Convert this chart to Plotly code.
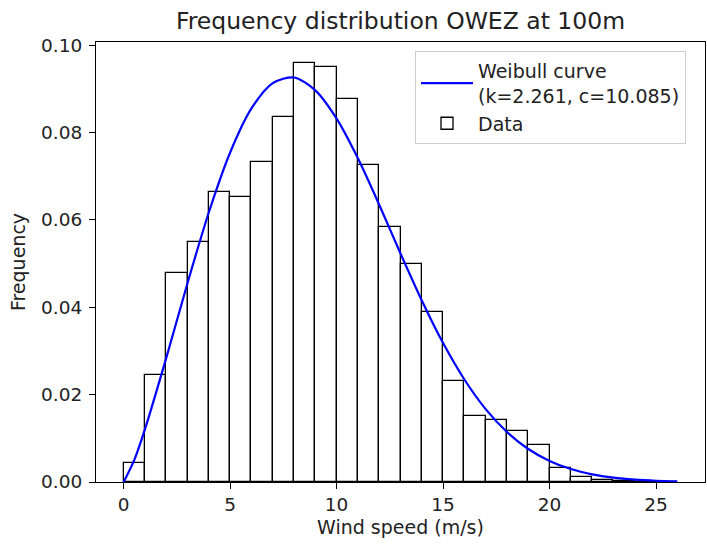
import plotly.graph_objects as go

# Histogram data (bin left edges, width 1 m/s) and relative frequencies
bin_left = list(range(0, 26))
freq = [0.0044, 0.0246, 0.0478, 0.0550, 0.0664, 0.0652, 0.0733, 0.0835, 0.0958,
        0.0950, 0.0877, 0.0726, 0.0584, 0.0498, 0.0388, 0.0231, 0.0150, 0.0143,
        0.0116, 0.0084, 0.0032, 0.0012, 0.0005, 0.0003, 0.0001, 0.0000]

# Weibull curve points (k=2.261, c=10.085)
curve_x = [0, 0.5, 1, 2, 3, 4, 5, 6, 7, 8, 9, 10, 11, 12, 13, 14, 15, 16, 17,
           18, 19, 20, 21, 22, 23, 24, 25, 26]
curve_y = [0.0, 0.00507, 0.01209, 0.02840, 0.04556, 0.06173, 0.07542, 0.08550,
           0.09130, 0.09258, 0.08964, 0.08316, 0.07407, 0.06345, 0.05230, 0.04155,
           0.03179, 0.02346, 0.01668, 0.01145, 0.00756, 0.00482, 0.00296, 0.00176,
           0.00100, 0.00055, 0.00029, 0.00015]

x_ticks = [0, 5, 10, 15, 20, 25]
y_ticks = [0.00, 0.02, 0.04, 0.06, 0.08, 0.10]

FONT = "DejaVu Sans"
TXT = "#222222"

fig = go.Figure()
fig.add_trace(go.Bar(
    x=[b + 0.5 for b in bin_left], y=freq, width=1,
    marker=dict(color="white", line=dict(color="black", width=1.3)),
    name="Data", legendrank=2,
))
fig.add_trace(go.Scatter(
    x=curve_x, y=curve_y, mode="lines",
    line=dict(color="#0000ff", width=2.2, shape="spline", smoothing=0.8),
    name="Weibull curve<br>(k=2.261, c=10.085)", legendrank=1,
))

fig.update_layout(
    width=707, height=545,
    margin=dict(l=96, r=2, t=42, b=63),
    paper_bgcolor="white", plot_bgcolor="white",
    font=dict(family=FONT, size=18.5, color=TXT),
    title=dict(text="Frequency distribution OWEZ at 100m", font=dict(size=23.5, color=TXT),
               x=(96 + 705) / 2 / 707, xanchor="center",
               yref="container", y=1 - 21 / 545, yanchor="middle"),
    showlegend=True,
    legend=dict(x=(415 - 96) / 609, y=1 - (51 - 42) / 440, xanchor="left", yanchor="top",
                bgcolor="rgba(255,255,255,0.85)", bordercolor="#cccccc", borderwidth=1,
                font=dict(size=19, color=TXT), tracegroupgap=0, itemwidth=52),
    bargap=0,
)
fig.update_xaxes(
    range=[-1.3, 27.3], tickvals=x_ticks, ticktext=[str(v) for v in x_ticks],
    showgrid=False, zeroline=False, showline=True, linecolor="black", linewidth=1,
    mirror=True, ticks="outside", ticklen=6, tickcolor="black",
    title=dict(text="Wind speed (m/s)", font=dict(size=19), standoff=6),
)
fig.update_yaxes(
    range=[0, 0.1007], tickvals=y_ticks, ticktext=[f"{v:.2f}" for v in y_ticks],
    showgrid=False, zeroline=False, showline=True, linecolor="black", linewidth=1,
    mirror=True, ticks="outside", ticklen=6, tickcolor="black", ticklabelstandoff=3,
    title=dict(text="Frequency", font=dict(size=19), standoff=10),
)

fig.write_html("out.html")
